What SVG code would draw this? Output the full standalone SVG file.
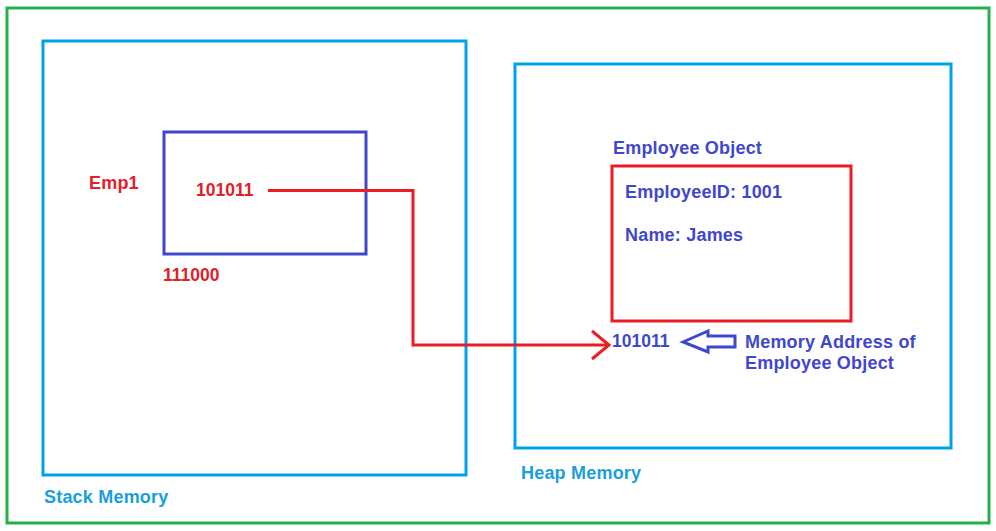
<svg xmlns="http://www.w3.org/2000/svg" width="996" height="531" viewBox="0 0 996 531">
<defs>
<style>
text{font-family:"Liberation Sans",Arial,sans-serif;font-weight:bold;font-size:18px;letter-spacing:0.2px}
.num{font-size:17.5px;letter-spacing:0}
.red{fill:#e0202a}
.blue{fill:#3f48cc}
.cyan{fill:#1a9fdc}
.box{fill:none;stroke-width:3}
</style>
</defs>
<rect x="0" y="0" width="996" height="531" fill="#ffffff"/>
<rect x="7" y="8" width="982" height="515" class="box" stroke="#22b14c"/>
<g id="stack">
<rect x="43" y="41" width="423" height="434" class="box" stroke="#00a2e8"/>
<text x="44" y="503" class="cyan">Stack Memory</text>
</g>
<g id="heap">
<rect x="515" y="64" width="436" height="384" class="box" stroke="#00a2e8"/>
<text x="521" y="479" class="cyan">Heap Memory</text>
</g>
<g id="emp1">
<rect x="164" y="132" width="202" height="122" class="box" stroke="#3f48cc"/>
<text x="89" y="189" class="red">Emp1</text>
<text x="196" y="196" class="red num">101011</text>
<text x="163" y="281" class="red num">111000</text>
</g>
<g id="employee-object">
<text x="613" y="154" class="blue">Employee Object</text>
<rect x="612" y="166" width="239" height="155" class="box" stroke="#ed1c24"/>
<text x="625" y="198" class="blue">EmployeeID: 1001</text>
<text x="625" y="241" class="blue">Name: James</text>
<text x="612" y="347" class="blue num">101011</text>
</g>
<g id="address-note">
<path d="M683,342 L708,331 L708,336 L735,336 L735,347 L708,347 L708,352 Z" fill="none" stroke="#3f48cc" stroke-width="3" stroke-linejoin="miter"/>
<text x="745" y="348" class="blue">Memory Address of</text>
<text x="745" y="369" class="blue">Employee Object</text>
</g>
<g id="connectors">
<polyline points="268,190.5 413,190.5 413,345 608,345" fill="none" stroke="#ed1c24" stroke-width="3"/>
<polyline points="592,331 609,345 592,359" fill="none" stroke="#ed1c24" stroke-width="3"/>
</g>
</svg>
